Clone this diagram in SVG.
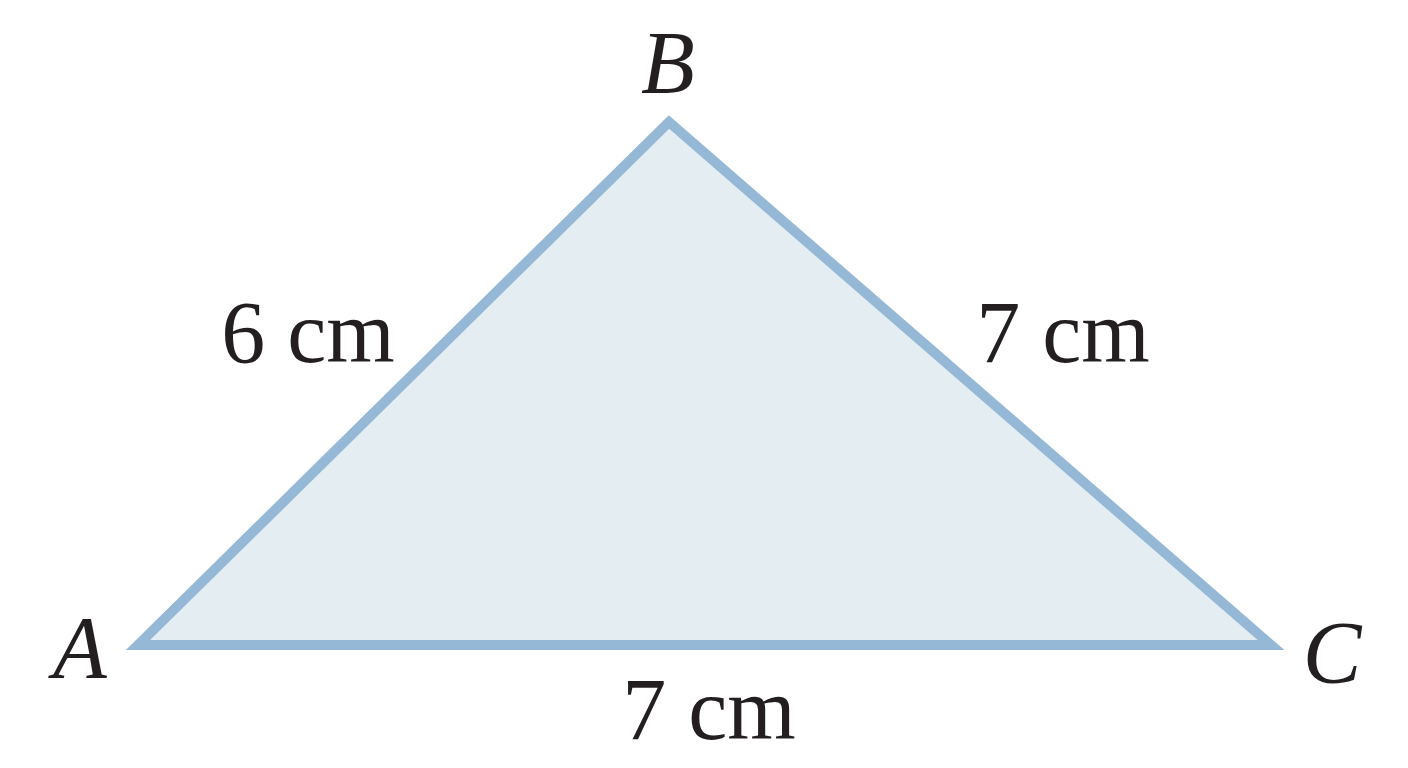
<svg xmlns="http://www.w3.org/2000/svg" width="1408" height="768" viewBox="0 0 1408 768">
<style>
.lbl{font-family:"Liberation Serif","Times New Roman",serif;font-size:88px;fill:#231f20;text-anchor:middle}
.pt{font-style:italic;font-size:88px}
</style>
<rect width="1408" height="768" fill="#ffffff"/>
<g id="triangle">
<polygon points="138,645 669,122 1271,645" fill="#e4edf2" stroke="#94b8d6" stroke-width="10" stroke-linejoin="miter" stroke-miterlimit="10"/>
</g>
<g id="vertex-A"><text class="lbl pt" x="80" y="677">A</text></g>
<g id="vertex-B"><text class="lbl pt" x="668" y="92">B</text></g>
<g id="vertex-C"><text class="lbl pt" x="1332" y="682">C</text></g>
<g id="label-AB"><text class="lbl" x="308" y="362">6 cm</text></g>
<g id="label-BC"><text class="lbl" x="1063" y="362">7 cm</text></g>
<g id="label-AC"><text class="lbl" x="709" y="739">7 cm</text></g>
</svg>
